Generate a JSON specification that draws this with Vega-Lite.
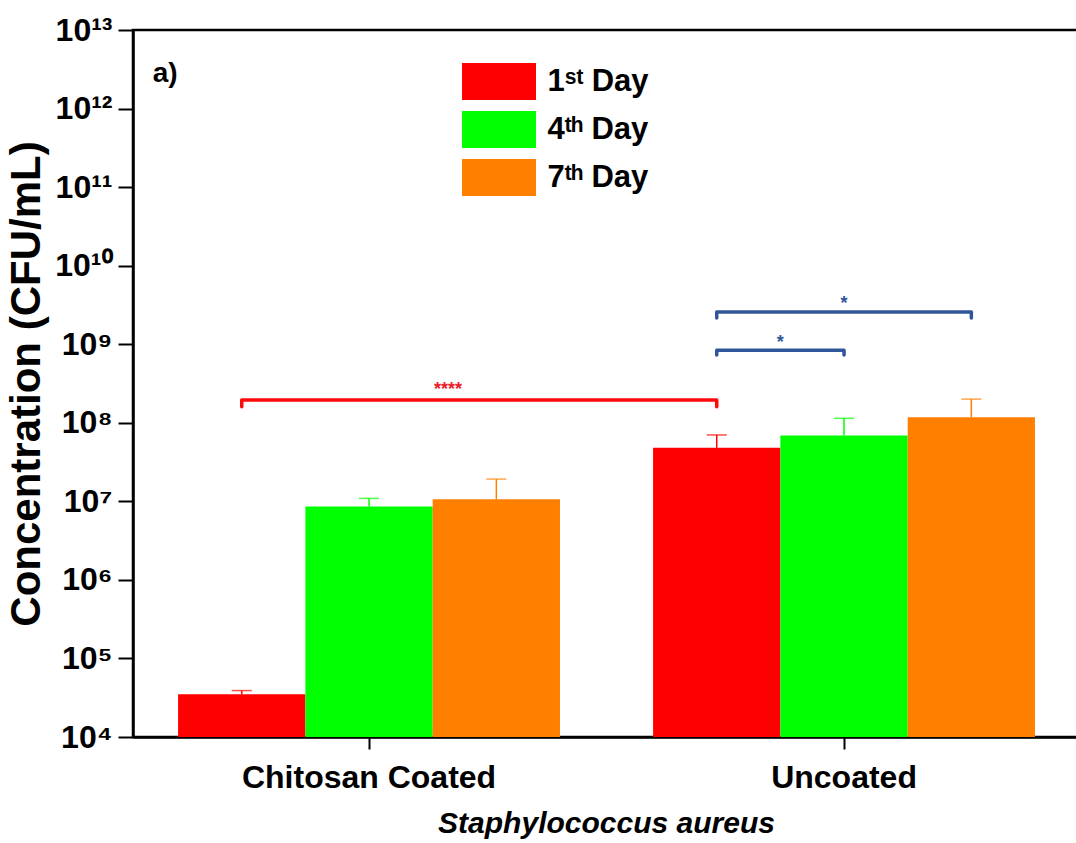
{
  "$schema": "https://vega.github.io/schema/vega-lite/v6.json",
  "width": 946,
  "height": 707,
  "autosize": {"type": "none"},
  "padding": {"left": 133, "top": 30, "right": 0, "bottom": 106},
  "background": "white",
  "datasets": {
    "bars": [
      {"group": "Chitosan Coated", "day": "1ˢᵗ Day", "value": 35000, "upper": 39000},
      {"group": "Chitosan Coated", "day": "4ᵗʰ Day", "value": 8600000, "upper": 10900000},
      {"group": "Chitosan Coated", "day": "7ᵗʰ Day", "value": 10600000, "upper": 19200000},
      {"group": "Uncoated", "day": "1ˢᵗ Day", "value": 48000000, "upper": 70000000},
      {"group": "Uncoated", "day": "4ᵗʰ Day", "value": 69000000, "upper": 114000000},
      {"group": "Uncoated", "day": "7ᵗʰ Day", "value": 118000000, "upper": 200000000}
    ],
    "brackets": [
      {"bracket": "red", "group": "Chitosan Coated", "day": "1ˢᵗ Day", "value": 160000000, "order": 0},
      {"bracket": "red", "group": "Chitosan Coated", "day": "1ˢᵗ Day", "value": 195000000, "order": 1},
      {"bracket": "red", "group": "Uncoated", "day": "1ˢᵗ Day", "value": 195000000, "order": 2},
      {"bracket": "red", "group": "Uncoated", "day": "1ˢᵗ Day", "value": 160000000, "order": 3},
      {"bracket": "blue1", "group": "Uncoated", "day": "1ˢᵗ Day", "value": 730000000, "order": 0},
      {"bracket": "blue1", "group": "Uncoated", "day": "1ˢᵗ Day", "value": 840000000, "order": 1},
      {"bracket": "blue1", "group": "Uncoated", "day": "4ᵗʰ Day", "value": 840000000, "order": 2},
      {"bracket": "blue1", "group": "Uncoated", "day": "4ᵗʰ Day", "value": 730000000, "order": 3},
      {"bracket": "blue2", "group": "Uncoated", "day": "1ˢᵗ Day", "value": 2150000000, "order": 0},
      {"bracket": "blue2", "group": "Uncoated", "day": "1ˢᵗ Day", "value": 2570000000, "order": 1},
      {"bracket": "blue2", "group": "Uncoated", "day": "7ᵗʰ Day", "value": 2570000000, "order": 2},
      {"bracket": "blue2", "group": "Uncoated", "day": "7ᵗʰ Day", "value": 2150000000, "order": 3}
    ],
    "stars": [
      {"which": "red", "label": "****", "group": "Chitosan Coated", "day": "4ᵗʰ Day", "value": 225000000},
      {"which": "blue1", "label": "*", "group": "Uncoated", "day": "1ˢᵗ Day", "value": 895000000},
      {"which": "blue2", "label": "*", "group": "Uncoated", "day": "4ᵗʰ Day", "value": 2800000000}
    ]
  },
  "encoding": {
    "x": {
      "field": "group", "type": "nominal",
      "scale": {"domain": ["Chitosan Coated", "Uncoated"], "paddingInner": 0.196, "paddingOuter": 0.0938, "align": 0.506},
      "title": "Staphylococcus aureus",
      "axis": {"labelAngle": 0, "labelFontSize": 32, "labelFont": "Liberation Sans", "labelFontWeight": "bold", "labelColor": "black", "labelPadding": 13, "labelLimit": 0, "tickSize": 12, "tickWidth": 2, "tickColor": "black", "domainColor": "black", "domainWidth": 2.5, "titleFont": "Liberation Sans", "titleFontSize": 30, "titleFontWeight": "bold", "titleFontStyle": "italic", "titleColor": "black", "titlePadding": 15}
    },
    "xOffset": {"field": "day", "type": "nominal", "scale": {"domain": ["1ˢᵗ Day", "4ᵗʰ Day", "7ᵗʰ Day"], "paddingInner": 0, "paddingOuter": 0}}
  },
  "layer": [
    {
      "data": {"name": "bars"},
      "mark": {"type": "bar"},
      "encoding": {
        "y": {
          "field": "value", "type": "quantitative",
          "scale": {"type": "log", "domain": [10000, 10000000000000], "nice": false},
          "title": "Concentration (CFU/mL)",
          "axis": {"values": [10000, 100000, 1000000, 10000000, 100000000, 1000000000, 10000000000, 100000000000, 1000000000000, 10000000000000],
            "labelExpr": "'10' + (datum.value >= 1e10 ? '¹' : '') + ['⁰','¹','²','³','⁴','⁵','⁶','⁷','⁸','⁹'][round(log(datum.value)/LN10) % 10]",
            "grid": false, "labelFontSize": 32, "labelFont": "Liberation Sans", "labelFontWeight": "bold", "labelColor": "black", "labelPadding": 6, "labelBaseline": "middle",
            "tickSize": 15, "tickWidth": 2, "tickColor": "black", "domainColor": "black", "domainWidth": 2.5,
            "titleFont": "Liberation Sans", "titleFontSize": 42, "titleFontWeight": "bold", "titleColor": "black", "titlePadding": 6}
        },
        "y2": {"datum": 10000},
        "color": {
          "field": "day", "type": "nominal",
          "scale": {"domain": ["1ˢᵗ Day", "4ᵗʰ Day", "7ᵗʰ Day"], "range": ["#FF0000", "#00FF00", "#FF8000"]},
          "legend": {"orient": "none", "legendX": 347.5, "legendY": 33, "title": null, "symbolType": "M-2,-1H2V1H-2Z", "symbolSize": 1369, "symbolStrokeWidth": 0, "symbolOpacity": 1, "labelFontSize": 31, "labelFont": "Liberation Sans", "labelFontWeight": "bold", "labelColor": "black", "labelOffset": 30, "rowPadding": 11, "padding": 0}
        }
      }
    },
    {
      "data": {"name": "bars"},
      "mark": {"type": "rule", "strokeWidth": 1.5},
      "encoding": {
        "y": {"field": "value", "type": "quantitative", "title": "Concentration (CFU/mL)"},
        "y2": {"field": "upper"},
        "color": {"field": "day", "type": "nominal", "legend": null}
      }
    },
    {
      "data": {"name": "bars"},
      "mark": {"type": "tick", "size": 20, "thickness": 1.5, "orient": "horizontal"},
      "encoding": {
        "y": {"field": "upper", "type": "quantitative", "title": "Concentration (CFU/mL)"},
        "color": {"field": "day", "type": "nominal", "legend": null}
      }
    },
    {
      "data": {"name": "brackets"},
      "transform": [{"filter": "datum.bracket == 'red'"}],
      "mark": {"type": "line", "color": "#FF0A0A", "strokeWidth": 3.5, "strokeJoin": "round", "strokeCap": "round"},
      "encoding": {
        "y": {"field": "value", "type": "quantitative", "title": "Concentration (CFU/mL)"},
        "detail": {"field": "bracket"},
        "order": {"field": "order", "type": "quantitative"}
      }
    },
    {
      "data": {"name": "brackets"},
      "transform": [{"filter": "datum.bracket != 'red'"}],
      "mark": {"type": "line", "color": "#2F559A", "strokeWidth": 3.5, "strokeJoin": "round", "strokeCap": "round"},
      "encoding": {
        "y": {"field": "value", "type": "quantitative", "title": "Concentration (CFU/mL)"},
        "detail": {"field": "bracket"},
        "order": {"field": "order", "type": "quantitative"}
      }
    },
    {
      "data": {"name": "stars"},
      "transform": [{"filter": "datum.which == 'red'"}],
      "mark": {"type": "text", "color": "#E8202A", "fontSize": 18, "fontWeight": "bold", "font": "Liberation Sans", "baseline": "alphabetic", "align": "center", "dx": 79},
      "encoding": {
        "y": {"field": "value", "type": "quantitative", "title": "Concentration (CFU/mL)"},
        "text": {"field": "label"}
      }
    },
    {
      "data": {"name": "stars"},
      "transform": [{"filter": "datum.which == 'blue1'"}],
      "mark": {"type": "text", "color": "#2F559A", "fontSize": 18, "fontWeight": "bold", "font": "Liberation Sans", "baseline": "alphabetic", "align": "center", "dx": 63.5},
      "encoding": {
        "y": {"field": "value", "type": "quantitative", "title": "Concentration (CFU/mL)"},
        "text": {"field": "label"}
      }
    },
    {
      "data": {"name": "stars"},
      "transform": [{"filter": "datum.which == 'blue2'"}],
      "mark": {"type": "text", "color": "#2F559A", "fontSize": 18, "fontWeight": "bold", "font": "Liberation Sans", "baseline": "alphabetic", "align": "center"},
      "encoding": {
        "y": {"field": "value", "type": "quantitative", "title": "Concentration (CFU/mL)"},
        "text": {"field": "label"}
      }
    },
    {
      "data": {"values": [{"label": "a)"}]},
      "mark": {"type": "text", "color": "black", "fontSize": 28, "fontWeight": "bold", "font": "Liberation Sans", "baseline": "alphabetic", "align": "left", "dx": -89},
      "encoding": {
        "x": {"datum": "Chitosan Coated"},
        "xOffset": {"datum": "1ˢᵗ Day"},
        "y": {"datum": 2180000000000},
        "text": {"field": "label"}
      }
    }
  ],
  "config": {
    "view": {"stroke": "black", "strokeWidth": 2.5}
  }
}
